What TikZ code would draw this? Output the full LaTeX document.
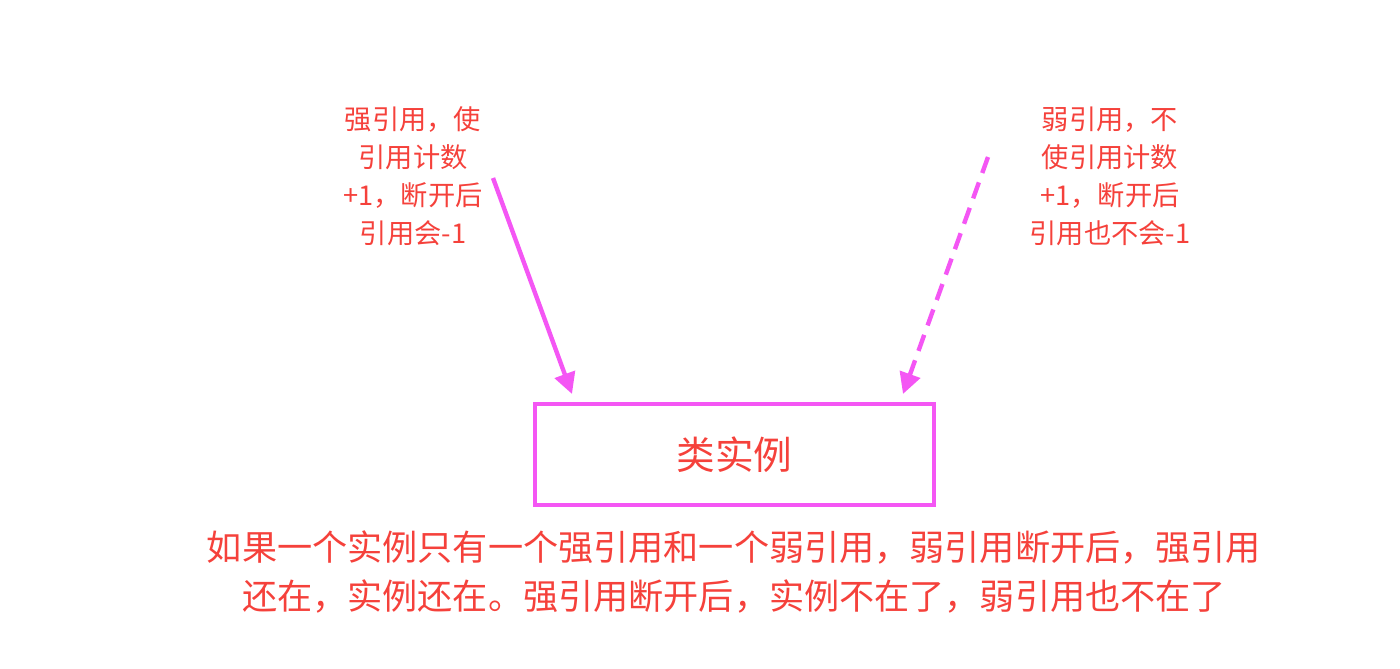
\documentclass[tikz,border=0pt]{standalone}
\usepackage{fontspec}
\setmainfont{Noto Sans CJK SC}
\usetikzlibrary{arrows.meta,positioning}
\definecolor{refmagenta}{HTML}{F456F4}
\definecolor{refred}{HTML}{F5413B}

\begin{document}
\begin{tikzpicture}[
  x=0.02cm,y=-0.02cm,
  note/.style={align=center,text=refred,font=\fontsize{15.5}{21.6}\selectfont,inner sep=0pt},
  instance/.style={draw=refmagenta,line width=2.4pt,minimum width=7.98cm,minimum height=2.02cm,
    text=refred,font=\fontsize{22}{26}\selectfont},
  ref/.style={-{Triangle[length=0.42cm,width=0.42cm]},line width=2.5pt,draw=refmagenta}
]
\useasboundingbox (0,0) rectangle (1400,669);
\node[instance] (inst) at (734.5,454.5) {类实例};
\node[note] (strong) at (413,176) {强引用，使\\引用计数\\+1，断开后\\引用会-1};
\node[note] (weak) at (1110,176) {弱引用，不\\使引用计数\\+1，断开后\\引用也不会-1};
\node[align=center,text=refred,font=\fontsize{20}{27.5}\selectfont,inner sep=0pt] (summary) at (734,572)
  {如果一个实例只有一个强引用和一个弱引用，弱引用断开后，强引用\\还在，实例还在。强引用断开后，实例不在了，弱引用也不在了};
\coordinate (strongfrom) at (493,178);
\coordinate (strongto) at (572,394);
\coordinate (weakfrom) at (988,157);
\coordinate (weakto) at (903,394);
\draw[ref] (strongfrom) -- (strongto);
\draw[ref,dash pattern=on 0.34cm off 0.2cm] (weakfrom) -- (weakto);
\end{tikzpicture}
\end{document}
